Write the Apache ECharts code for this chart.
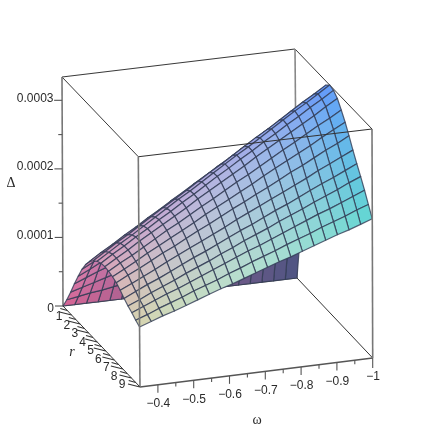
<!DOCTYPE html>
<html>
<head>
<meta charset="utf-8">
<style>html,body{margin:0;padding:0;background:#fff}#c{width:436px;height:436px}</style>
<script src="https://cdn.jsdelivr.net/npm/echarts@6/dist/echarts.min.js"></script>
</head>
<body>
<div id="c"></div>
<script>
const omegaValues = [-0.35,-0.3825,-0.415,-0.4475,-0.48,-0.5125,-0.545,-0.5775,-0.61,-0.6425,-0.675,-0.7075,-0.74,-0.7725,-0.805,-0.8375,-0.87,-0.9025,-0.935,-0.9675,-1];
const rValues = [0,0.45,0.9,1.35,1.8,2.25,2.7,3.15,3.6,4.05,4.5,4.95,5.4,5.85,6.3,6.75,7.2,7.65,8.1,8.55,9];
// Delta x 1e6, one row per omega value, one column per r value
const deltaMicro = [
[0,15,32,50,67,83,96,106,113,118,121,122,121,119,116,111,105,100,96,91,87],
[0,18,37,57,75,92,106,117,124,129,132,132,131,128,125,119,113,107,103,97,93],
[0,21,42,64,84,102,116,127,135,140,142,142,140,137,133,127,121,115,110,104,99],
[0,23,47,70,92,111,126,138,145,150,153,153,150,147,142,135,128,122,117,110,104],
[0,26,52,77,100,120,136,148,156,161,163,163,160,156,151,144,136,129,123,116,110],
[0,29,57,84,108,129,146,159,167,172,174,173,170,165,159,152,144,137,130,123,116],
[0,32,62,90,117,139,156,169,178,183,184,183,179,174,168,160,152,144,137,129,122],
[0,34,67,97,125,148,166,180,188,194,195,193,189,183,177,168,159,151,144,135,128],
[0,37,72,104,133,157,176,190,199,204,205,204,199,193,185,176,167,159,151,142,133],
[0,40,77,111,141,166,186,201,210,215,216,214,208,202,194,184,175,166,158,148,139],
[0,43,83,118,150,176,197,211,221,226,227,224,218,211,203,193,183,174,165,155,145],
[0,45,88,124,158,185,207,222,231,237,237,234,228,220,211,201,190,181,171,161,151],
[0,48,93,131,166,194,217,232,242,248,248,244,237,229,220,209,198,188,178,167,157],
[0,51,98,138,174,203,227,243,253,258,258,255,247,239,228,217,206,196,185,174,162],
[0,54,103,145,183,213,237,253,264,269,269,265,257,248,237,225,213,203,192,180,168],
[0,56,108,151,191,222,247,264,274,280,279,275,267,257,246,233,221,210,199,186,174],
[0,59,113,158,199,231,257,274,285,291,290,285,276,266,254,241,229,218,206,193,180],
[0,62,118,165,207,240,267,285,296,302,300,295,286,275,263,250,237,225,212,199,186],
[0,65,123,172,216,250,277,295,307,312,311,305,296,285,272,258,244,232,219,205,191],
[0,67,128,178,224,259,287,306,317,323,321,316,305,294,280,266,252,240,226,212,197],
[0,70,133,185,232,268,297,316,328,334,332,326,315,303,289,274,260,247,233,218,203]
];
const deltaTicks = [0,0.0001,0.0002,0.0003];
const deltaMinorTicks = [0.00005,0.00015,0.00025];
const deltaTickLabels = ['0','0.0001','0.0002','0.0003'];
const omegaTicks = [-0.4,-0.5,-0.6,-0.7,-0.8,-0.9,-1];
const omegaMinorTicks = [-0.45,-0.55,-0.65,-0.75,-0.85,-0.95];
const omegaTickLabels = ['\u22120.4','\u22120.5','\u22120.6','\u22120.7','\u22120.8','\u22120.9','\u22121'];
const rTicks = [1,2,3,4,5,6,7,8,9];
const rMinorTicks = [0.5,1.5,2.5,3.5,4.5,5.5,6.5,7.5,8.5];

const OM_NEAR=-0.35, OM_FAR=-1, R_MAX=9, D_MAX=0.000334;
const cube = {
  lbB:[63,306], lfB:[140,387], rbB:[297,278], rfB:[372.7,358],
  lbT:[62,77],  lfT:[138.3,156.7], rbT:[295,49], rfT:[372,129]
};
function mix(p,q,t){return [p[0]+(q[0]-p[0])*t,p[1]+(q[1]-p[1])*t];}
function project(om,r,d){
  const a=(om-OM_NEAR)/(OM_FAR-OM_NEAR), b=r/R_MAX, c=d/D_MAX;
  const bot=mix(mix(cube.lbB,cube.lfB,b),mix(cube.rbB,cube.rfB,b),a);
  const top=mix(mix(cube.lbT,cube.lfT,b),mix(cube.rbT,cube.rfT,b),a);
  return mix(bot,top,c);
}
function cellColor(om,r,d,under){
  const u=(om-OM_FAR)/(OM_NEAR-OM_FAR), v=r/R_MAX, w=d/D_MAX;
  let c=[95+120*u,100+115*v,148+102*w];
  if(under){const k=0.82+0.18*u;c=c.map(x=>x*k);}
  else{const m=0.22*Math.min(1,v*2)*4*u*(1-u);c=c.map(x=>x+(255-x)*m);}
  return 'rgb('+c.map(Math.round).join(',')+')';
}
const D=(i,j)=>deltaMicro[i][j]*1e-6;

const cells=[];
for(let j=0;j<rValues.length-1;j++) for(let i=omegaValues.length-2;i>=0;i--) cells.push([i,j]);

const edgesBack=[['lbT','rbT','#3a3a3a',1.1],['lbT','lfT','#3a3a3a',1],['rbT','rfT','#3a3a3a',1],
  ['lbB','lbT','#777',1.6],['rbB','rbT','#888',1.6],['lbB','rbB','#444',1],
  ['rbB','rfB','#333',1],['lbB','lfB','#333',1],['lfB','rfB','#555',1.4]];
const edgesFront=[['lfT','rfT','#333',1.1],['lfB','lfT','#777',1.6],['rfB','rfT','#777',1.6]];

function edgeSeries(list,z){
  return {type:'custom',coordinateSystem:'cartesian2d',z:z,silent:true,animation:false,
    data:list.map((e,k)=>[k,0]),
    renderItem:(p,api)=>{
      const e=list[api.value(0)], a=api.coord(cube[e[0]]), b=api.coord(cube[e[1]]);
      return {type:'line',shape:{x1:a[0],y1:a[1],x2:b[0],y2:b[1]},style:{stroke:e[2],lineWidth:e[3]}};
    }};
}

const tickMarks=[];
deltaTicks.forEach(t=>tickMarks.push([project(OM_NEAR,0,t),-8,0,'#555']));
deltaMinorTicks.forEach(t=>tickMarks.push([project(OM_NEAR,0,t),-4,0,'#555']));
omegaTicks.forEach(t=>tickMarks.push([project(t,R_MAX,0),0,t===-1?10:8,'#555']));
omegaMinorTicks.forEach(t=>tickMarks.push([project(t,R_MAX,0),0,4,'#555']));
rTicks.forEach(t=>tickMarks.push([project(OM_NEAR,t,0),-12,-3,'#333']));
rMinorTicks.forEach(t=>tickMarks.push([project(OM_NEAR,t,0),-7,-2,'#333']));

const SANS='"Liberation Sans",Arial,sans-serif', SERIF='"Liberation Serif","Times New Roman",serif';
const texts=[];
deltaTicks.forEach((t,k)=>{const q=project(OM_NEAR,0,t);texts.push([deltaTickLabels[k],k===0?54:53.5,q[1]+(k===0?3:-2),12,SANS,'normal','right']);});
omegaTicks.forEach((t,k)=>{const q=project(t,R_MAX,0);texts.push([omegaTickLabels[k],q[0]+0.5,q[1]+19,12,SANS,'normal','center']);});
rTicks.forEach(t=>{const q=project(OM_NEAR,t,0);texts.push([String(t),q[0]-12.5-(t-1)*0.69,q[1]+2-(t-1)*0.5,12,SANS,'normal','center']);});
texts.push(['\u0394',11,183,14,SERIF,'normal','center']);
texts.push(['r',72,352,14,SERIF,'italic','center']);
texts.push(['\u03c9',257,420,14,SERIF,'normal','center']);

const chart=echarts.init(document.getElementById('c'),null,{renderer:'canvas',width:436,height:436});
chart.setOption({
  animation:false,
  backgroundColor:'#fff',
  grid:{left:0,right:0,top:0,bottom:0},
  xAxis:{type:'value',min:0,max:436,show:false},
  yAxis:{type:'value',min:0,max:436,inverse:true,show:false},
  series:[
    edgeSeries(edgesBack,1),
    {type:'custom',coordinateSystem:'cartesian2d',z:2,silent:true,animation:false,progressive:0,
     data:cells,
     renderItem:(p,api)=>{
       const i=api.value(0), j=api.value(1);
       const c=[[i,j],[i+1,j],[i+1,j+1],[i,j+1]];
       const pts=c.map(q=>api.coord(project(omegaValues[q[0]],rValues[q[1]],D(q[0],q[1]))));
       let area=0;
       pts.forEach((q,k)=>{const n=pts[(k+1)%4];area+=q[0]*n[1]-n[0]*q[1];});
       const om=(omegaValues[i]+omegaValues[i+1])/2, r=(rValues[j]+rValues[j+1])/2;
       const d=(D(i,j)+D(i+1,j)+D(i+1,j+1)+D(i,j+1))/4;
       return {type:'polygon',shape:{points:pts},
         style:{fill:cellColor(om,r,d,area<0),stroke:'rgba(50,60,85,0.8)',lineWidth:1.2,lineJoin:'round'}};
     }},
    edgeSeries(edgesFront,3),
    {type:'custom',coordinateSystem:'cartesian2d',z:3,silent:true,animation:false,
     data:tickMarks.map((t,k)=>[k,0]),
     renderItem:(p,api)=>{
       const t=tickMarks[api.value(0)], a=api.coord(t[0]), b=api.coord([t[0][0]+t[1],t[0][1]+t[2]]);
       return {type:'line',shape:{x1:a[0],y1:a[1],x2:b[0],y2:b[1]},style:{stroke:t[3],lineWidth:1.1}};
     }},
    {type:'custom',coordinateSystem:'cartesian2d',z:4,silent:true,animation:false,
     data:texts.map((t,k)=>[k,0]),
     renderItem:(p,api)=>{
       const t=texts[api.value(0)], a=api.coord([t[1],t[2]]);
       return {type:'text',style:{text:t[0],x:a[0],y:a[1],fontSize:t[3],fontFamily:t[4],fontStyle:t[5],
         fill:'#2a2a2a',align:t[6],verticalAlign:'middle'}};
     }}
  ]
});
</script>
</body>
</html>
